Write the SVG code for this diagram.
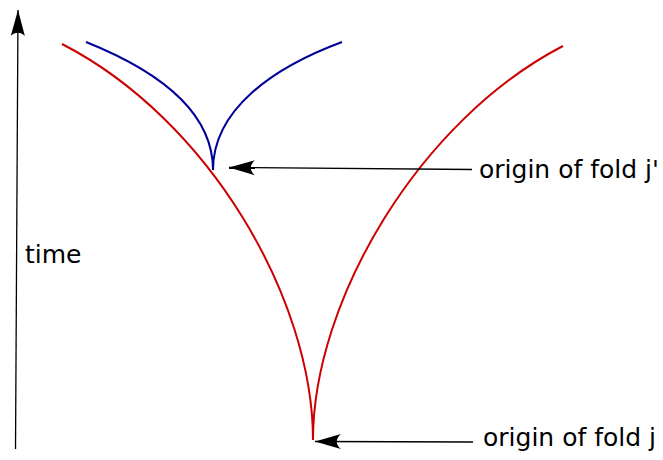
<svg xmlns="http://www.w3.org/2000/svg" width="663" height="460" viewBox="0 0 663 460">
<defs>
<style>
.red{fill:none;stroke:#cc0000;stroke-width:2}
.blue{fill:none;stroke:#000099;stroke-width:2}
.conn{fill:none;stroke:#000;stroke-width:1.3}
.lbl{font-family:"DejaVu Sans",sans-serif;font-size:25px;fill:#000}
</style>
<marker id="head" markerUnits="userSpaceOnUse" orient="auto" markerWidth="30" markerHeight="20" viewBox="-20 -7 22 14" refX="0" refY="0">
<path d="M0,0 L-19,-5.5 C-15,-2 -15,2 -19,5.5 Z" fill="#000"/>
</marker>
<marker id="bighead" markerUnits="userSpaceOnUse" orient="auto" markerWidth="30" markerHeight="20" viewBox="-27 -8 29 16" refX="0" refY="0">
<path d="M0,0 L-25,-6.8 C-21,-2.5 -21,2.5 -25,6.8 Z" fill="#000"/>
</marker>
</defs>
<g id="curves">
<path id="red-left" class="red" d="M62,44 C210,120 313,300 313,440"/>
<path id="red-right" class="red" d="M563,46 C420,120 313,300 313,440"/>
<path id="blue-left" class="blue" d="M86,42 C156,70 213,110 213,170"/>
<path id="blue-right" class="blue" d="M342,42 C272,68 213,110 213,170"/>
</g>
<g id="axis">
<line class="conn" x1="15.5" y1="449" x2="18" y2="10" marker-end="url(#bighead)"/>
<text class="lbl" x="25" y="263">time</text>
</g>
<g id="connectors">
<line class="conn" x1="472" y1="169.5" x2="229" y2="167.5" marker-end="url(#head)"/>
<line class="conn" x1="473" y1="442" x2="315" y2="441.5" marker-end="url(#head)"/>
</g>
<g id="label-jprime"><text class="lbl" x="479" y="178">origin of fold j'</text></g>
<g id="label-j"><text class="lbl" x="483" y="446">origin of fold j</text></g>
</svg>
